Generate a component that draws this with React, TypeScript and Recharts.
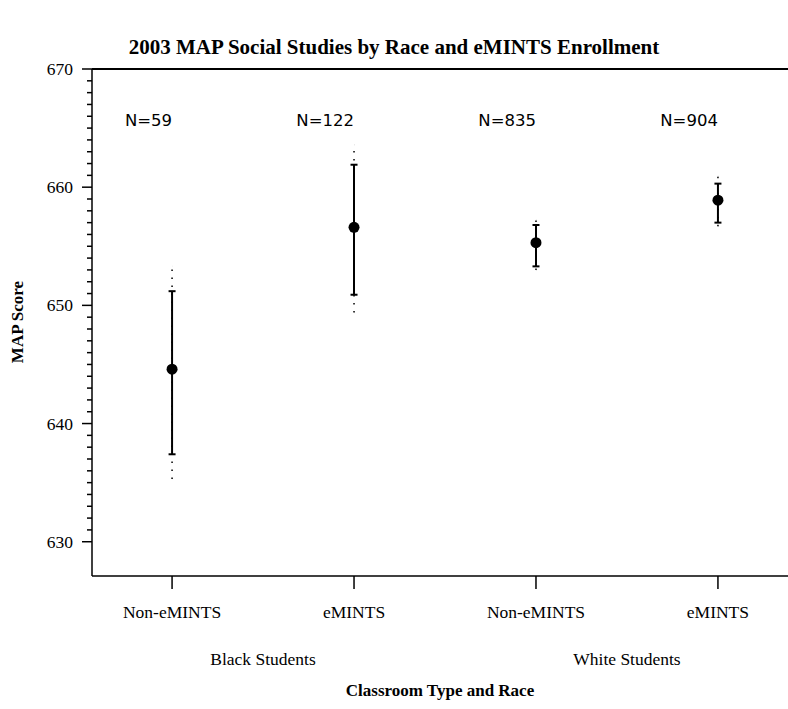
import React from 'react';
import { ComposedChart, Scatter, XAxis, YAxis, ErrorBar } from 'recharts';

// Classroom type per column, and the race group under each pair
const categories = ['Non-eMINTS', 'eMINTS', 'Non-eMINTS', 'eMINTS'];
const groups = ['Black Students', 'White Students'];
const nLabels = ['N=59', 'N=122', 'N=835', 'N=904'];

// Mean MAP score and the two interval bounds (solid inner, dotted outer)
const means = [644.6, 656.6, 655.3, 658.9];
const innerLow = [637.4, 650.9, 653.3, 657.0];
const innerHigh = [651.2, 661.9, 656.8, 660.3];
const outerLow = [635.3, 649.4, 653.0, 656.7];
const outerHigh = [653.3, 663.6, 657.2, 660.9];

const yTicks = Array.from({ length: 41 }, (_, i) => 630 + i);
const catTicks = [0, 1, 2, 3];
const groupTicks = [0.5, 2.5];

const data = means.map((m, i) => ({
    x: i,
    mean: m,
    inner: [m - innerLow[i], innerHigh[i] - m],
    outer: [m - outerLow[i], outerHigh[i] - m],
}));

const serif = '"Liberation Serif", "Times New Roman", serif';
const sans = '"DejaVu Sans", sans-serif';
const xDomain: [number, number] = [-0.44, 3.385];

// eslint-disable-next-line @typescript-eslint/no-explicit-any
function YTick({ x, y, payload }: any) {
    const major = payload.value % 10 === 0;
    return (
        <g>
            <line x1={x - (major ? 10 : 5)} x2={x} y1={y} y2={y} stroke="#000" strokeWidth={1.5} />
            {major && (
                <text x={x - 19} y={y + 6} textAnchor="end" fontFamily={serif} fontSize={17.5} fill="#000">
                    {payload.value}
                </text>
            )}
        </g>
    );
}

// eslint-disable-next-line @typescript-eslint/no-explicit-any
function CatTick({ x, y, payload }: any) {
    return (
        <text x={x} y={y + 29} textAnchor="middle" fontFamily={serif} fontSize={17.5} fill="#000">
            {categories[payload.value]}
        </text>
    );
}

// eslint-disable-next-line @typescript-eslint/no-explicit-any
function GroupTick({ x, y, payload }: any) {
    return (
        <text x={x} y={y + 29} textAnchor="middle" fontFamily={serif} fontSize={17.5} fill="#000">
            {groups[Math.floor(payload.value / 2)]}
        </text>
    );
}

// eslint-disable-next-line @typescript-eslint/no-explicit-any
function NTick({ x, y, payload }: any) {
    return (
        <text x={x} y={y + 57} textAnchor="end" fontFamily={sans} fontSize={16.5} fill="#000">
            {nLabels[payload.value]}
        </text>
    );
}

// eslint-disable-next-line @typescript-eslint/no-explicit-any
const MeanDot = (p: any) => <circle cx={p.cx} cy={p.cy} r={5.5} fill="#000" />;
const NoDot = () => <g />;

export default function App() {
    return (
        <div style={{ position: 'absolute', left: 0, top: 0, width: 788, height: 709, background: '#fff' }}>
            <div
                style={{
                    position: 'absolute', left: 0, top: 35, width: 788, textAlign: 'center',
                    fontFamily: serif, fontWeight: 'bold', fontSize: 21,
                }}
            >
                2003 MAP Social Studies by Race and eMINTS Enrollment
            </div>
            <div
                style={{
                    position: 'absolute', left: 18, top: 322, transform: 'translate(-50%, -50%) rotate(-90deg)',
                    whiteSpace: 'nowrap', fontFamily: serif, fontWeight: 'bold', fontSize: 17,
                }}
            >
                MAP Score
            </div>
            <div
                style={{
                    position: 'absolute', left: 440, top: 691, transform: 'translate(-50%, -50%)',
                    whiteSpace: 'nowrap', fontFamily: serif, fontWeight: 'bold', fontSize: 17,
                }}
            >
                Classroom Type and Race
            </div>

            <ComposedChart width={788} height={709} data={data} margin={{ top: 68, right: 0, bottom: 13, left: 0 }}>
                <XAxis
                    xAxisId="cat" dataKey="x" type="number" domain={xDomain} allowDataOverflow
                    ticks={catTicks} interval={0} height={60} tickSize={13} tickMargin={0}
                    axisLine={{ stroke: '#000', strokeWidth: 1.5 }} tickLine={{ stroke: '#000', strokeWidth: 1.5 }}
                    tick={<CatTick />}
                />
                <XAxis
                    xAxisId="grp" dataKey="x" type="number" domain={xDomain} allowDataOverflow
                    ticks={groupTicks} interval={0} height={60} tickSize={0} tickMargin={0}
                    axisLine={false} tickLine={false} tick={<GroupTick />}
                />
                <XAxis
                    xAxisId="n" dataKey="x" orientation="top" type="number" domain={xDomain} allowDataOverflow
                    ticks={catTicks} interval={0} height={1} tickSize={0} tickMargin={0}
                    axisLine={{ stroke: '#000', strokeWidth: 2 }} tickLine={false} tick={<NTick />}
                />
                <YAxis
                    dataKey="mean" type="number" domain={[627.1, 670]} allowDataOverflow
                    ticks={yTicks} interval={0} width={92} tickSize={0} tickMargin={0}
                    axisLine={{ stroke: '#000', strokeWidth: 1.5 }} tickLine={false} tick={<YTick />}
                />
                {/* invisible carriers so the label axes share the same domain */}
                <Scatter xAxisId="grp" dataKey="mean" shape={NoDot} isAnimationActive={false} />
                <Scatter xAxisId="n" dataKey="mean" shape={NoDot} isAnimationActive={false} />
                {/* dotted outer interval first, so the solid inner interval sits on top */}
                <Scatter xAxisId="cat" dataKey="mean" shape={NoDot} isAnimationActive={false}>
                    <ErrorBar
                        dataKey="outer" direction="y" width={0} stroke="#000" strokeWidth={1.5}
                        strokeDasharray="1.5 6.5" isAnimationActive={false}
                    />
                </Scatter>
                <Scatter xAxisId="cat" dataKey="mean" shape={MeanDot} isAnimationActive={false}>
                    <ErrorBar
                        dataKey="inner" direction="y" width={3.5} stroke="#000" strokeWidth={2}
                        isAnimationActive={false}
                    />
                </Scatter>
            </ComposedChart>
        </div>
    );
}
